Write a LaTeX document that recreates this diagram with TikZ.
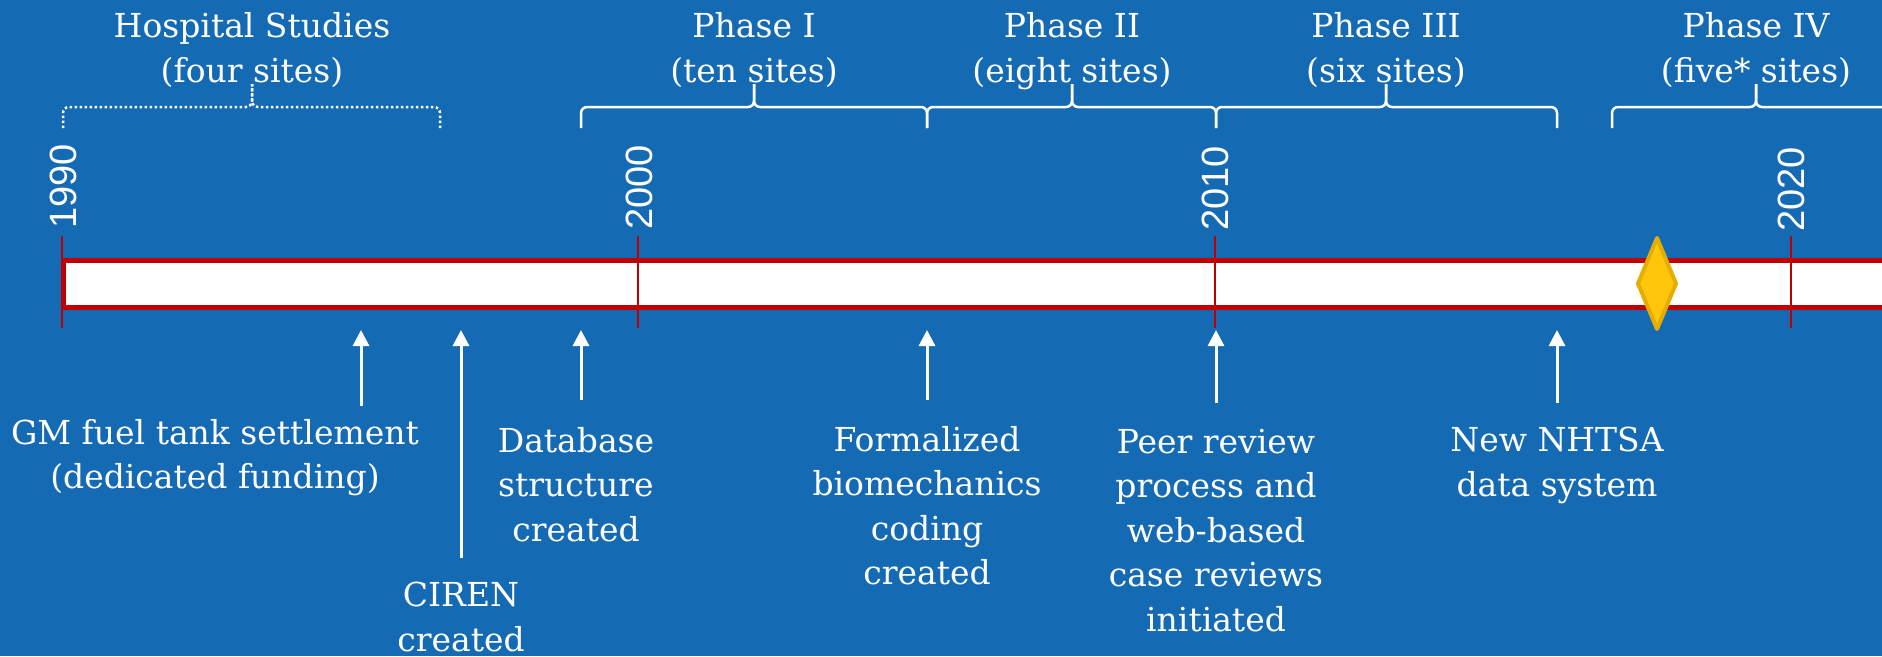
\documentclass[tikz,border=0pt]{standalone}
\usepackage{fontspec}
\newfontfamily\slab{DejaVu Serif}
\newfontfamily\yearfont{Liberation Sans}
\usetikzlibrary{arrows.meta}
\definecolor{bg}{RGB}{21,106,180}
\definecolor{barred}{RGB}{192,0,0}
\definecolor{gold}{RGB}{255,198,11}
\definecolor{golddark}{RGB}{228,174,0}
\newcommand\mybracket[4][]{%
  \draw[bracketline,#1] (#2,128) -- (#2,107) -- (#3,107) -- (#3,84);
  \draw[bracketline,#1] (#4,128) -- (#4,107) -- (#3,107) -- (#3,84);}
\begin{document}
\begin{tikzpicture}[x=1pt,y=-1pt,
 toptext/.style={text=white, align=center, font=\slab\fontsize{33}{45.5}\selectfont, inner sep=0pt, anchor=north},
 bottext/.style={text=white, align=center, font=\slab\fontsize{33}{44.5}\selectfont, inner sep=0pt, anchor=north},
 yearlabel/.style={text=white, font=\yearfont\fontsize{38}{40}\selectfont, rotate=90, anchor=west, inner sep=0pt},
 bracketline/.style={draw=white, line width=2.5pt, rounded corners=6pt},
 dotline/.style={dash pattern=on 2.5pt off 2.5pt},
 yeartick/.style={draw=barred, line width=2.2pt},
 evarrow/.style={draw=white, line width=3pt, -{Triangle[width=16pt,length=16pt]}},
]
\fill[bg] (0,0) rectangle (1882,656);
\useasboundingbox (0,0) rectangle (1882,656);
\clip (0,0) rectangle (1882,656);

% timeline bar
\draw[draw=barred, fill=white, line width=5pt] (63,260) rectangle (1910,307);
\foreach \x in {62,638.3,1214.6,1790.9} {\draw[yeartick] (\x,236) -- (\x,328);}
\draw[fill=gold, draw=golddark, line width=4pt, line join=round]
  (1657,238) -- (1676,283.5) -- (1657,329) -- (1638,283.5) -- cycle;

% years
\node[yearlabel] (y1990) at (63,229) {1990};
\node[yearlabel] (y2000) at (639,230) {2000};
\node[yearlabel] (y2010) at (1215,231) {2010};
\node[yearlabel] (y2020) at (1791,232) {2020};

% brackets
\mybracket[dotline]{63}{252}{440}
\mybracket{581}{754}{927}
\mybracket{927}{1072}{1216}
\mybracket{1216}{1386}{1557}
\mybracket{1612}{1756}{1900}

% period labels
\node[toptext] (hosp) at (252,12) {Hospital Studies\\(four sites)};
\node[toptext] (p1) at (754,12) {Phase I\\(ten sites)};
\node[toptext] (p2) at (1072,12) {Phase II\\(eight sites)};
\node[toptext] (p3) at (1386,12) {Phase III\\(six sites)};
\node[toptext] (p4) at (1756,12) {Phase IV\\(five* sites)};

% events
\node[bottext] (gm) at (215,419) {GM fuel tank settlement\\(dedicated funding)};
\node[bottext] (ciren) at (461,582) {CIREN\\created};
\node[bottext] (db) at (576,427) {Database\\structure\\created};
\node[bottext] (form) at (927,426) {Formalized\\biomechanics\\coding\\created};
\node[bottext] (peer) at (1216,429) {Peer review\\process and\\web-based\\case reviews\\initiated};
\node[bottext] (nhtsa) at (1557,427) {New NHTSA\\data system};

\coordinate (gmb) at (361,406);   \coordinate (gmt) at (361,330);
\coordinate (cib) at (461,558);   \coordinate (cit) at (461,330);
\coordinate (dbb) at (581,400);   \coordinate (dbt) at (581,330);
\coordinate (fob) at (927,400);   \coordinate (fot) at (927,330);
\coordinate (peb) at (1216,403);  \coordinate (pet) at (1216,330);
\coordinate (nhb) at (1557,403);  \coordinate (nht) at (1557,330);
\draw[evarrow] (gmb) -- (gmt);
\draw[evarrow] (cib) -- (cit);
\draw[evarrow] (dbb) -- (dbt);
\draw[evarrow] (fob) -- (fot);
\draw[evarrow] (peb) -- (pet);
\draw[evarrow] (nhb) -- (nht);
\end{tikzpicture}
\end{document}
